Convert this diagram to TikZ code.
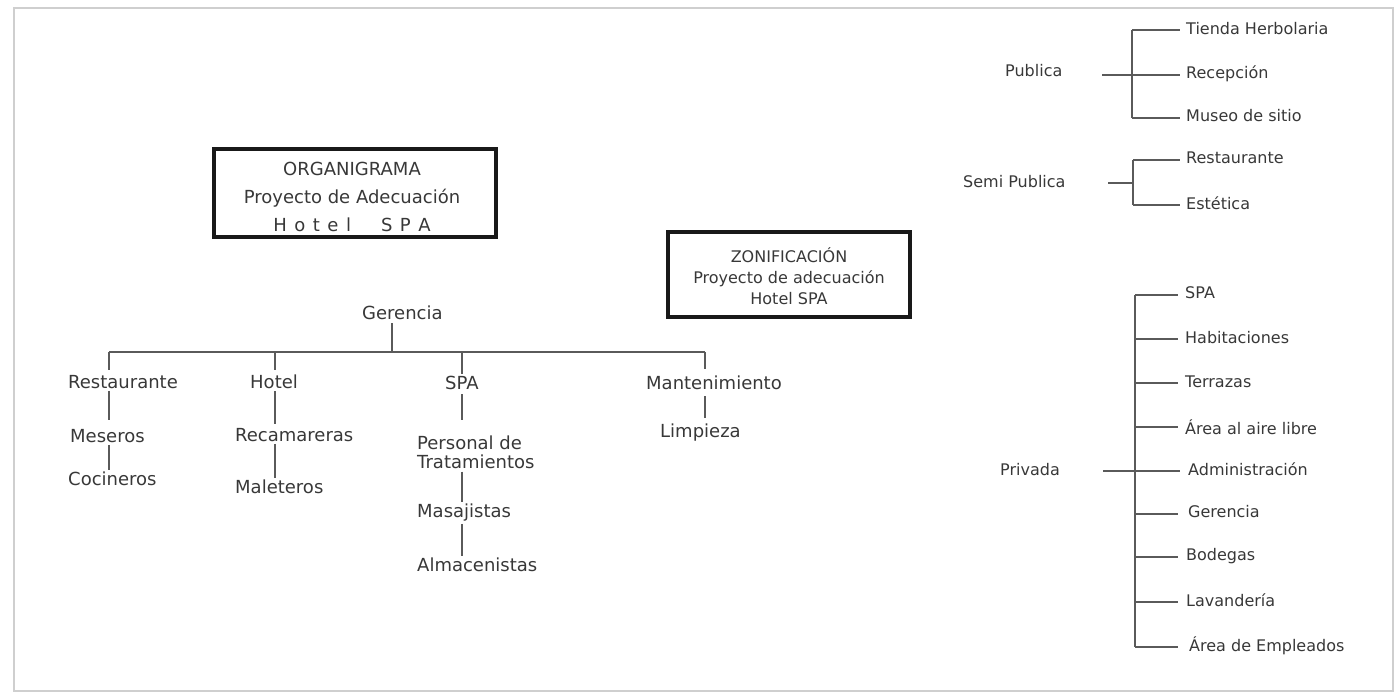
\documentclass[tikz,border=0pt]{standalone}
\usepackage{fontspec}
\setmainfont{DejaVu Sans}
\definecolor{txt}{HTML}{383838}
\definecolor{linec}{HTML}{5A5A5A}
\definecolor{framec}{HTML}{CFCFCF}
\begin{document}
\begin{tikzpicture}[x=1pt,y=-1pt,
  lbl/.style={font=\fontsize{18}{19}\selectfont, text=txt, inner sep=0pt, anchor=west},
  rlbl/.style={font=\fontsize{16}{18}\selectfont, text=txt, inner sep=0pt, anchor=west},
  ln/.style={draw=linec, line width=1.4pt},
  boxframe/.style={draw=black!90, line width=3.5pt, inner sep=0pt},
]
\useasboundingbox (0,0) rectangle (1397,698);
\draw[framec, line width=1.6pt] (14,8) rectangle (1393,691);

% title boxes
\node[boxframe, minimum width=282pt, minimum height=88pt] (box1) at (355,193) {};
\node[font=\fontsize{18}{28}\selectfont, text=txt, align=center, inner sep=0pt] (t1) at (352,197)
  {ORGANIGRAMA\\Proyecto de Adecuación\\H\hspace{7.5pt}o\hspace{7.5pt}t\hspace{7.5pt}e\hspace{7.5pt}l\hspace{30pt}S\hspace{7.5pt}P\hspace{7.5pt}A};
\node[boxframe, minimum width=242pt, minimum height=85pt] (box2) at (789,274.5) {};
\node[font=\fontsize{16}{21}\selectfont, text=txt, align=center, inner sep=0pt] (t2) at (789,276)
  {ZONIFICACIÓN\\Proyecto de adecuación\\Hotel SPA};

% organigrama
\node[lbl] (ger) at (362,313) {Gerencia};
\node[lbl] (rest) at (68,382) {Restaurante};
\node[lbl] (mes) at (70,436) {Meseros};
\node[lbl] (coc) at (68,479) {Cocineros};
\node[lbl] (hot) at (250,382) {Hotel};
\node[lbl] (rec) at (235,435) {Recamareras};
\node[lbl] (mal) at (235,487) {Maleteros};
\node[lbl] (spa) at (445,383) {SPA};
\node[lbl, align=left] (per) at (417,452) {Personal de\\Tratamientos};
\node[lbl] (mas) at (417,513) {Masajistas};
\node[lbl] (alm) at (417,565) {Almacenistas};
\node[lbl] (man) at (646,383) {Mantenimiento};
\node[lbl] (lim) at (660,433) {Limpieza};

\coordinate (jG) at (392,352);
\coordinate (jR) at (109,352);
\coordinate (jH) at (275,352);
\coordinate (jS) at (462,352);
\coordinate (jM) at (705,352);
\draw[ln] (jR) -- (jM);
\draw[ln, shorten <=3pt] (jG |- ger.south) -- (jG);
\draw[ln, shorten >=5pt] (jR) -- (jR |- rest.north);
\draw[ln, shorten >=5pt] (jH) -- (jH |- hot.north);
\draw[ln, shorten >=2pt] (jS) -- (jS |- spa.north);
\draw[ln, shorten >=7pt] (jM) -- (jM |- man.north);
\draw[ln, shorten <=2pt, shorten >=9pt] (jR |- rest.south) -- (jR |- mes.north);
\draw[ln, shorten <=2pt, shorten >=2pt] (jR |- mes.south) -- (jR |- coc.north);
\draw[ln, shorten <=2pt, shorten >=4pt] (jH |- hot.south) -- (jH |- rec.north);
\draw[ln, shorten <=2pt, shorten >=2pt] (jH |- rec.south) -- (jH |- mal.north);
\draw[ln, shorten <=4pt, shorten >=15pt] (jS |- spa.south) -- (jS |- per.north);
\draw[ln, shorten <=3pt, shorten >=2pt] (jS |- per.south) -- (jS |- mas.north);
\draw[ln, shorten <=2pt, shorten >=2pt] (jS |- mas.south) -- (jS |- alm.north);
\draw[ln, shorten <=6pt, shorten >=6pt] (jM |- man.south) -- (jM |- lim.north);

% zonificacion - publica
\node[rlbl] (pub) at (1005,71) {Publica};
\node[rlbl] (tie) at (1186,29) {Tienda Herbolaria};
\node[rlbl] (recp) at (1186,74) {Recepción};
\node[rlbl] (mus) at (1186,116) {Museo de sitio};
\coordinate (pubA) at (1102,75);
\coordinate (pubT) at (1132,30);
\coordinate (pubB) at (1132,118);
\draw[ln, shorten >=6pt] (pubT) -- (tie.west |- pubT);
\draw[ln, shorten >=6pt] (pubB) -- (mus.west |- pubB);
\draw[ln] (pubT) -- (pubB);
\draw[ln, shorten >=6pt] (pubA) -- (recp.west |- pubA);

% semi publica
\node[rlbl] (semi) at (963,182) {Semi Publica};
\node[rlbl] (res2) at (1186,158) {Restaurante};
\node[rlbl] (est) at (1186,203) {Estética};
\coordinate (semA) at (1108,183);
\coordinate (semT) at (1133,160);
\coordinate (semB) at (1133,205);
\draw[ln] (semT) -- (semB);
\draw[ln, shorten >=6pt] (semT) -- (res2.west |- semT);
\draw[ln, shorten >=6pt] (semB) -- (est.west |- semB);
\draw[ln] (semA) -- (semA -| semT);

% privada
\node[rlbl] (pri) at (1000,470) {Privada};
\node[rlbl] (p1) at (1185,293) {SPA};
\node[rlbl] (p2) at (1185,338) {Habitaciones};
\node[rlbl] (p3) at (1185,382) {Terrazas};
\node[rlbl] (p4) at (1185,427) {Área al aire libre};
\node[rlbl] (p5) at (1188,469) {Administración};
\node[rlbl] (p6) at (1188,512) {Gerencia};
\node[rlbl] (p7) at (1186,556) {Bodegas};
\node[rlbl] (p8) at (1186,600) {Lavandería};
\node[rlbl] (p9) at (1189,646) {Área de Empleados};
\coordinate (priA) at (1103,471);
\coordinate (priT) at (1135,295);
\coordinate (priB) at (1135,647);
\draw[ln] (priT) -- (priB);
\draw[ln] (priA) -- (1180,471);
\foreach \n/\yy in {p1/295,p2/339,p3/383,p4/427,p6/514,p7/557,p8/602,p9/647}
  \draw[ln] (1135,\yy) -- (1178,\yy);
\end{tikzpicture}
\end{document}
